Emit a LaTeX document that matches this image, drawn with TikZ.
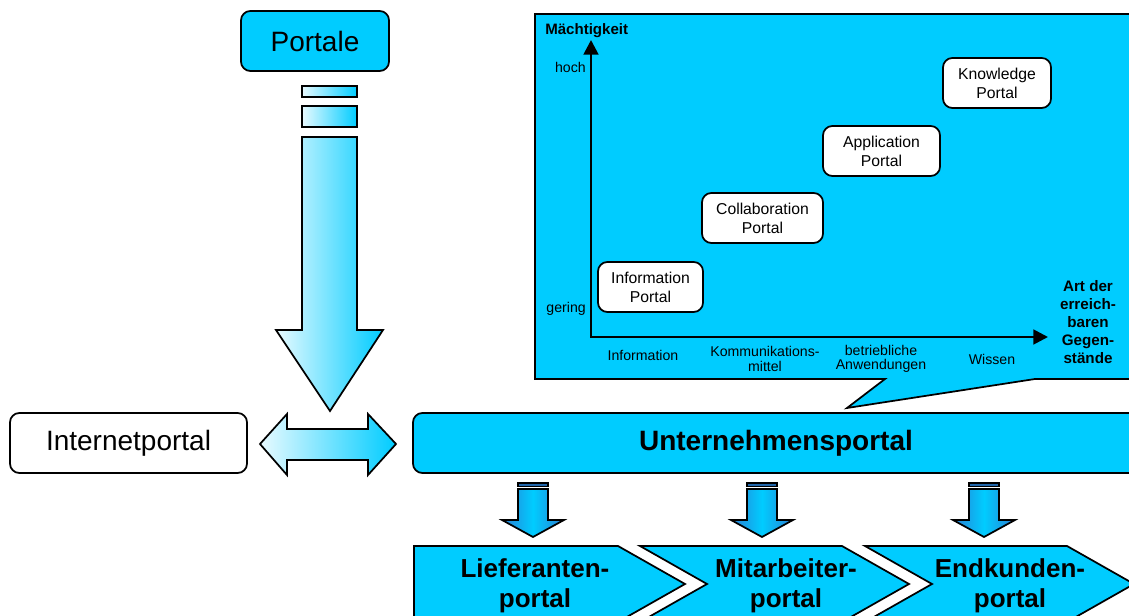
\documentclass[tikz,border=0pt]{standalone}
\usepackage{fontspec}
\setmainfont{Liberation Sans}
\usetikzlibrary{arrows.meta}
\definecolor{cy}{HTML}{00CCFF}
\definecolor{lcy}{HTML}{E8FAFF}
\definecolor{dblue}{HTML}{2A7FD4}
\tikzset{
  line/.style={draw=black, line width=1.3pt, line join=miter},
  rbox/.style={line, rounded corners=7pt, inner sep=0pt, align=center},
  bigtxt/.style={font=\fontsize{21}{25}\selectfont},
  portaltxt/.style={font=\fontsize{11.8}{14.3}\selectfont},
  axtxt/.style={font=\fontsize{10.6}{10.8}\selectfont, align=center, inner sep=0pt},
  chevtxt/.style={font=\bfseries\fontsize{19.5}{22.5}\selectfont, align=center, inner sep=0pt},
  grad/.style={line, left color=lcy, right color=cy},
  sgrad/.style={line, left color=dblue, right color=dblue, middle color=cy},
  chev/.style={line, fill=cy}
}
\newcommand{\smallarrow}[2]{%
  \draw[line, fill=dblue!80!black] (#1-15,483) rectangle (#1+15,486.5);
  \draw[sgrad] (#1-15,489) -- (#1+15,489) -- (#1+15,520) -- (#1+31,520) -- (#1,537) coordinate (#2) -- (#1-31,520) -- (#1-15,520) -- cycle;
}
\begin{document}
\begin{tikzpicture}[x=0.75pt,y=-0.75pt]
\useasboundingbox (0,0) rectangle (1129,616);
\clip (0,0) rectangle (1129,616);

% callout with diagram
\draw[line, fill=cy] (535,14) -- (1140,14) -- (1140,379) -- (1035,379) -- (847,408) coordinate (callouttip) -- (885,379) -- (535,379) -- cycle;

% axes
\coordinate (origin) at (591,337);
\coordinate (ytip) at (591,40);
\coordinate (xtip) at (1048,337);
\draw[line width=2.1pt, {Triangle[length=11pt,width=11pt]}-{Triangle[length=11pt,width=11pt]}] (ytip) -- (origin) -- (xtip);

\node[font=\bfseries\fontsize{11.3}{12}\selectfont, anchor=west, inner sep=0pt] (maecht) at (545,31) {Mächtigkeit};
\node[axtxt, anchor=east] (hoch) at (586,67) {hoch};
\node[axtxt, anchor=east] (gering) at (586,309) {gering};
\node[axtxt] (info) at (643,355) {Information};
\node[axtxt] (komm) at (765,359) {Kommunikations-\\mittel};
\node[axtxt] (betr) at (881,359) {betriebliche\\Anwendungen};
\node[axtxt] (wissen) at (992,359) {Wissen};
\node[font=\bfseries\fontsize{11.4}{13.5}\selectfont, align=center, inner sep=0pt] (art) at (1088,322.5) {Art der\\erreich-\\baren\\Gegen-\\stände};

% portal boxes
\node[rbox, fill=white, portaltxt, minimum width=105*0.75pt, minimum height=50*0.75pt] (ip) at (650.5,287) {Information\\Portal};
\node[rbox, fill=white, portaltxt, minimum width=121*0.75pt, minimum height=50*0.75pt] (cp) at (762.5,218) {Collaboration\\Portal};
\node[rbox, fill=white, portaltxt, minimum width=117*0.75pt, minimum height=50*0.75pt] (ap) at (881.5,151) {Application\\Portal};
\node[rbox, fill=white, portaltxt, minimum width=108*0.75pt, minimum height=50*0.75pt] (kp) at (997,83) {Knowledge\\Portal};

% top box and big arrow
\node[rbox, fill=cy, bigtxt, minimum width=148*0.75pt, minimum height=60*0.75pt] (portale) at (315,41) {Portale};
\draw[grad] (302,86) rectangle (357,97);
\draw[grad] (302,106) rectangle (357,127);
\draw[grad] (302,137) -- (357,137) -- (357,330) -- (383,330) -- (330,411) coordinate (bigtip) -- (276,330) -- (302,330) -- cycle;

% middle row
\node[rbox, fill=white, bigtxt, minimum width=237*0.75pt, minimum height=60*0.75pt] (inet) at (128.5,443) {Internetportal};
\node[rbox, fill=cy, minimum width=727*0.75pt, minimum height=60*0.75pt] (unt) at (776.5,443) {};
\node[font=\bfseries\fontsize{21}{25}\selectfont] (unttxt) at (776,443) {Unternehmensportal};
\draw[grad] (260,444) -- (287,414) -- (287,429) -- (368,429) -- (368,414) -- (396,444) -- (368,475) -- (368,460) -- (287,460) -- (287,475) -- cycle;

% small arrows
\smallarrow{533}{a1}
\smallarrow{762}{a2}
\smallarrow{984}{a3}

% chevrons
\draw[chev] (414,546) -- (618,546) -- (685,584) -- (618,622) -- (414,622) -- cycle;
\draw[chev] (640,546) -- (842,546) -- (909,584) -- (842,622) -- (640,622) -- (707,584) -- cycle;
\draw[chev] (865,546) -- (1067,546) -- (1134,584) -- (1067,622) -- (865,622) -- (932,584) -- cycle;
\node[chevtxt] (lief) at (535,586) {Lieferanten-\\portal};
\node[chevtxt] (mita) at (786,586) {Mitarbeiter-\\portal};
\node[chevtxt] (endk) at (1010,586) {Endkunden-\\portal};
\end{tikzpicture}
\end{document}
